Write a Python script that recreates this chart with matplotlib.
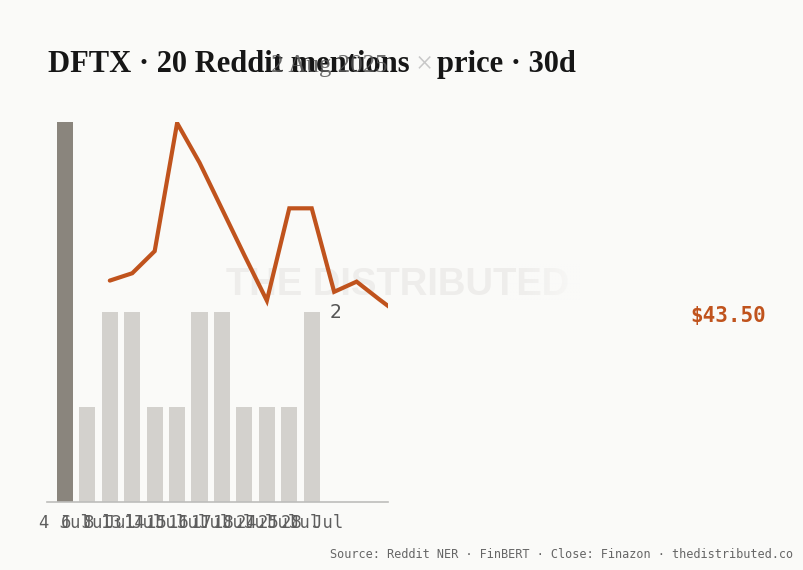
import numpy as np
import matplotlib
matplotlib.use("Agg")
import matplotlib.pyplot as plt
from matplotlib.transforms import blended_transform_factory

# data
days = ["4 Jul", "6 Jul", "8 Jul", "13 Jul", "14 Jul", "15 Jul",
        "16 Jul", "17 Jul", "18 Jul", "24 Jul", "25 Jul", "28 Jul"]
mentions = [4, 1, 2, 2, 1, 1, 2, 2, 1, 1, 1, 2]
price_idx = [2, 3, 4, 5, 6, 7, 8, 9, 10, 11, 12, 13, 14, 15]
close = [44.51, 44.72, 45.35, 49.00, 47.87, 46.55, 45.23,
         43.94, 46.57, 46.57, 44.19, 44.48, 43.98, 43.50]

BG = "#fafaf8"
ORANGE = "#c0531d"
W, H = 804, 570

fig = plt.figure(figsize=(W / 100, H / 100), dpi=100)
fig.patch.set_facecolor(BG)

# background layer for the watermark
wax = fig.add_axes([0, 0, 1, 1], zorder=0)
wax.set_xlim(0, W)
wax.set_ylim(H, 0)
wax.axis("off")
wax.text(398, 285, "THE DISTRIBUTED", fontsize=27.5, fontweight="bold",
         family="Liberation Sans", color="#eeedeb", ha="center", va="center")
grad = np.zeros((1, 100, 4))
grad[..., :3] = matplotlib.colors.to_rgb(BG)
grad[..., 3] = np.linspace(0, 1, 100) ** 1.5
wax.imshow(grad, extent=(505, 580, 302, 264), aspect="auto", zorder=3)

# main chart
ax = fig.add_axes([47 / W, (H - 502) / H, 341 / W, 380 / H], zorder=1)
ax.set_facecolor("none")
x = np.arange(len(mentions))
colors = ["#8a857d"] + ["#d3d1cd"] * (len(mentions) - 1)
ax.bar(x, mentions, width=0.72, color=colors, zorder=2)
ax.set_xlim(-0.8, 14.4)
ax.set_ylim(0, 4)
ax.set_xticks(x)
ax.set_xticklabels(days, family="DejaVu Sans Mono", fontsize=12.4, color="#5e5e5e")
ax.tick_params(axis="x", length=0, pad=9)
ax.set_yticks([])
for s in ["top", "left", "right"]:
    ax.spines[s].set_visible(False)
ax.spines["bottom"].set_color("#bdbdbb")
ax.spines["bottom"].set_linewidth(1.2)

ax.annotate(str(mentions[-1]), (x[-1], mentions[-1]), xytext=(13, 0),
            textcoords="offset points", ha="left", va="center",
            fontsize=13.5, color="#555555")

ax2 = ax.twinx()
ax2.set_ylim(38.20, 49.03)
ax2.plot(price_idx, close, color=ORANGE, lw=3, solid_joinstyle="miter",
         solid_capstyle="round", zorder=3)
ax2.axis("off")

tr = blended_transform_factory(fig.transFigure, ax2.transData)
ax2.text(728 / W, close[-1], f"${close[-1]:.2f}", transform=tr, ha="center",
         va="center", family="DejaVu Sans Mono", fontweight="bold",
         fontsize=15, color=ORANGE, clip_on=False)

# title in pieces
fig.canvas.draw()
r = fig.canvas.get_renderer()
ty = (H - 72) / H
t1 = fig.text(48 / W, ty, "DFTX · 20 Reddit mentions", family="Liberation Serif",
              fontweight="bold", fontsize=22, color="#161616", va="baseline")
x1 = t1.get_window_extent(r).x1
t2 = fig.text((x1 + 6) / W, ty, "×", family="Liberation Serif", fontsize=22,
              color="#c8c8c8", va="baseline")
x2 = t2.get_window_extent(r).x1
fig.text((x2 + 4) / W, ty, "price · 30d", family="Liberation Serif",
         fontweight="bold", fontsize=22, color="#161616", va="baseline")
fig.text(388 / W, ty, "2 Aug 2025", family="Liberation Serif", fontsize=18,
         color="#555555", alpha=0.85, ha="right", va="baseline")

fig.text(793 / W, (H - 555) / H,
         "Source: Reddit NER · FinBERT · Close: Finazon · thedistributed.co",
         family="DejaVu Sans Mono", fontsize=8.6, color="#666666",
         ha="right", va="center")

fig.savefig("out.png", dpi=100, facecolor=BG)
